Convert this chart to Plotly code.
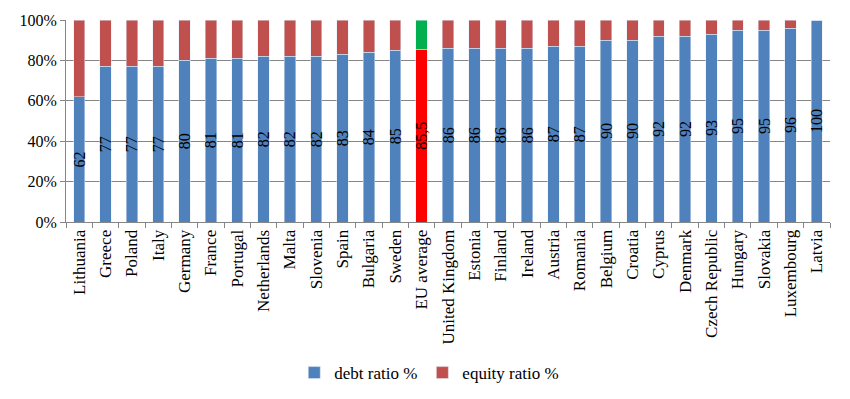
import plotly.graph_objects as go

countries = ["Lithuania", "Greece", "Poland", "Italy", "Germany", "France", "Portugal",
             "Netherlands", "Malta", "Slovenia", "Spain", "Bulgaria", "Sweden", "EU average",
             "United Kingdom", "Estonia", "Finland", "Ireland", "Austria", "Romania", "Belgium",
             "Croatia", "Cyprus", "Denmark", "Czech Republic", "Hungary", "Slovakia",
             "Luxembourg", "Latvia"]
debt = [62, 77, 77, 77, 80, 81, 81, 82, 82, 82, 83, 84, 85, 85.5, 86, 86, 86, 86, 87, 87,
        90, 90, 92, 92, 93, 95, 95, 96, 100]
equity = [38, 23, 23, 23, 20, 19, 19, 18, 18, 18, 17, 16, 15, 14.5, 14, 14, 14, 14, 13, 13,
          10, 10, 8, 8, 7, 5, 5, 4, 0]
labels = ["62", "77", "77", "77", "80", "81", "81", "82", "82", "82", "83", "84", "85", "85,5",
          "86", "86", "86", "86", "87", "87", "90", "90", "92", "92", "93", "95", "95", "96", "100"]
yticks = [0, 20, 40, 60, 80, 100]
yticklabels = ["0%", "20%", "40%", "60%", "80%", "100%"]

EU = "EU average"
blue, red = "#4F81BD", "#C0504D"
debt_colors = ["#FF0000" if c == EU else blue for c in countries]
eq_colors = ["#00B050" if c == EU else red for c in countries]

font = "Liberation Serif, Times New Roman, serif"

fig = go.Figure()
fig.add_trace(go.Bar(x=countries, y=debt, name="debt ratio %", marker_color=debt_colors,
                     text=labels, textposition="inside", insidetextanchor="middle",
                     textangle=-90, textfont=dict(family=font, size=16, color="black"),
                     hoverinfo="x+y"))
fig.add_trace(go.Bar(x=countries, y=equity, name="equity ratio %", marker_color=eq_colors,
                     hoverinfo="x+y"))
fig.update_layout(
    barmode="stack",
    bargap=0.57,
    width=850, height=399,
    margin=dict(l=66, r=20, t=20, b=177, autoexpand=False),
    paper_bgcolor="white", plot_bgcolor="white",
    font=dict(family=font, size=17, color="black"),
    legend=dict(orientation="h", xref="container", x=0.505, xanchor="center",
                yref="container", y=0.065, yanchor="middle", font=dict(size=17),
                itemwidth=30, traceorder="normal"),
    uniformtext=dict(minsize=10, mode="show"),
)
fig.update_xaxes(tickangle=-90, tickfont=dict(size=17), showline=True, linecolor="#868686",
                 ticks="outside", tickson="boundaries", ticklen=5, tickcolor="#868686",
                 showgrid=False, automargin=False)
fig.update_yaxes(range=[0, 100], tickvals=yticks, ticktext=yticklabels, tickfont=dict(size=16),
                 showgrid=True, gridcolor="#868686", gridwidth=1, showline=True,
                 linecolor="#868686", ticks="outside", ticklen=5, tickcolor="#868686",
                 zeroline=False, automargin=False)
fig.write_html("out.html", config={"displayModeBar": False},
               post_script="document.body.style.margin='0';document.body.style.overflow='hidden';")
